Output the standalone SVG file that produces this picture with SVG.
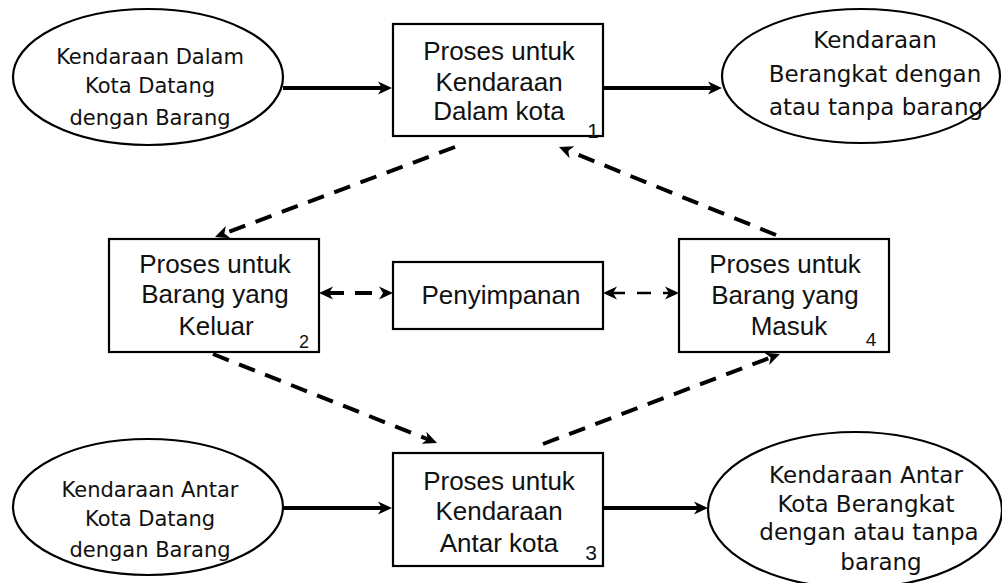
<svg xmlns="http://www.w3.org/2000/svg" width="1002" height="583" viewBox="0 0 1002 583">
<style>
.shape{fill:#fff;stroke:#000;stroke-width:2.2}
.et{font-family:"DejaVu Sans",sans-serif;font-size:21px;fill:#111;text-anchor:middle}
.et2{font-family:"DejaVu Sans",sans-serif;font-size:23px;fill:#111;text-anchor:middle}
.bt{font-family:"Liberation Sans",Arial,sans-serif;font-size:26px;fill:#111;text-anchor:middle}
.num{font-family:"Liberation Sans",Arial,sans-serif;fill:#111;text-anchor:middle}
.solid{stroke:#000;stroke-width:4;fill:none}
.dash{stroke:#000;stroke-width:4;fill:none;stroke-dasharray:17 11}
.dash2{stroke:#000;stroke-width:2.5;fill:none;stroke-dasharray:14 12}
</style>
<defs>
<marker id="ah" markerUnits="userSpaceOnUse" markerWidth="16" markerHeight="16" viewBox="0 0 16 16" refX="6" refY="8" orient="auto-start-reverse">
<path d="M14,8 L0,1.5 L4,8 L0,14.5 Z" fill="#000"/>
</marker>
</defs>
<g id="connectors">
<line class="solid" x1="283" y1="88" x2="384" y2="88" marker-end="url(#ah)"/>
<line class="solid" x1="603" y1="88" x2="714" y2="88" marker-end="url(#ah)"/>
<line class="solid" x1="283" y1="508" x2="384" y2="508" marker-end="url(#ah)"/>
<line class="solid" x1="603" y1="508" x2="700" y2="508" marker-end="url(#ah)"/>
<line class="dash" x1="455" y1="147" x2="222.5" y2="234.2" marker-end="url(#ah)"/>
<line class="dash" x1="776" y1="235" x2="566.4" y2="150" marker-end="url(#ah)"/>
<line class="dash" x1="213" y1="354" x2="429.6" y2="440" marker-end="url(#ah)"/>
<line class="dash" x1="543" y1="444" x2="772.5" y2="356.8" marker-end="url(#ah)"/>
<line class="dash" x1="327" y1="293" x2="385" y2="293" stroke-dasharray="0 13 18 13" marker-start="url(#ah)" marker-end="url(#ah)"/>
<line class="dash2" x1="611" y1="293" x2="671" y2="293" stroke-dasharray="0 14 14 14" marker-start="url(#ah)" marker-end="url(#ah)"/>
</g>
<g id="src-dalam">
<ellipse class="shape" cx="148" cy="77" rx="135" ry="68"/>
<text class="et" x="150" y="64">Kendaraan Dalam</text>
<text class="et" x="150" y="93">Kota Datang</text>
<text class="et" x="150" y="125">dengan Barang</text>
</g>
<g id="proc1">
<rect class="shape" x="393" y="24" width="210" height="112"/>
<text class="bt" x="499" y="60">Proses untuk</text>
<text class="bt" x="499" y="91">Kendaraan</text>
<text class="bt" x="499" y="120">Dalam kota</text>
<text class="num" x="593" y="138" font-size="21">1</text>
</g>
<g id="out-dalam">
<ellipse class="shape" cx="861" cy="76" rx="139" ry="67"/>
<text class="et2" x="875" y="48">Kendaraan</text>
<text class="et2" x="875" y="82">Berangkat dengan</text>
<text class="et2" x="876" y="115">atau tanpa barang</text>
</g>
<g id="proc2">
<rect class="shape" x="109" y="239" width="210" height="113"/>
<text class="bt" x="215" y="273">Proses untuk</text>
<text class="bt" x="215" y="303">Barang yang</text>
<text class="bt" x="216" y="335">Keluar</text>
<text class="num" x="304" y="348" font-size="18">2</text>
</g>
<g id="storage">
<rect class="shape" x="393" y="262" width="210" height="67"/>
<text class="bt" x="501" y="304">Penyimpanan</text>
</g>
<g id="proc4">
<rect class="shape" x="679" y="239" width="210" height="113"/>
<text class="bt" x="785" y="273">Proses untuk</text>
<text class="bt" x="785" y="304">Barang yang</text>
<text class="bt" x="789" y="335">Masuk</text>
<text class="num" x="871" y="346" font-size="19">4</text>
</g>
<g id="src-antar">
<ellipse class="shape" cx="148" cy="507" rx="135" ry="68"/>
<text class="et" x="150" y="497">Kendaraan Antar</text>
<text class="et" x="150" y="526">Kota Datang</text>
<text class="et" x="150" y="557">dengan Barang</text>
</g>
<g id="proc3">
<rect class="shape" x="393" y="453" width="210" height="113"/>
<text class="bt" x="499" y="490">Proses untuk</text>
<text class="bt" x="499" y="520">Kendaraan</text>
<text class="bt" x="499" y="552">Antar kota</text>
<text class="num" x="591" y="560" font-size="21">3</text>
</g>
<g id="out-antar">
<ellipse class="shape" cx="855" cy="510" rx="147" ry="78"/>
<text class="et2" x="866" y="483">Kendaraan Antar</text>
<text class="et2" x="866" y="512">Kota Berangkat</text>
<text class="et2" x="869" y="540">dengan atau tanpa</text>
<text class="et2" x="881" y="570">barang</text>
</g>
</svg>
